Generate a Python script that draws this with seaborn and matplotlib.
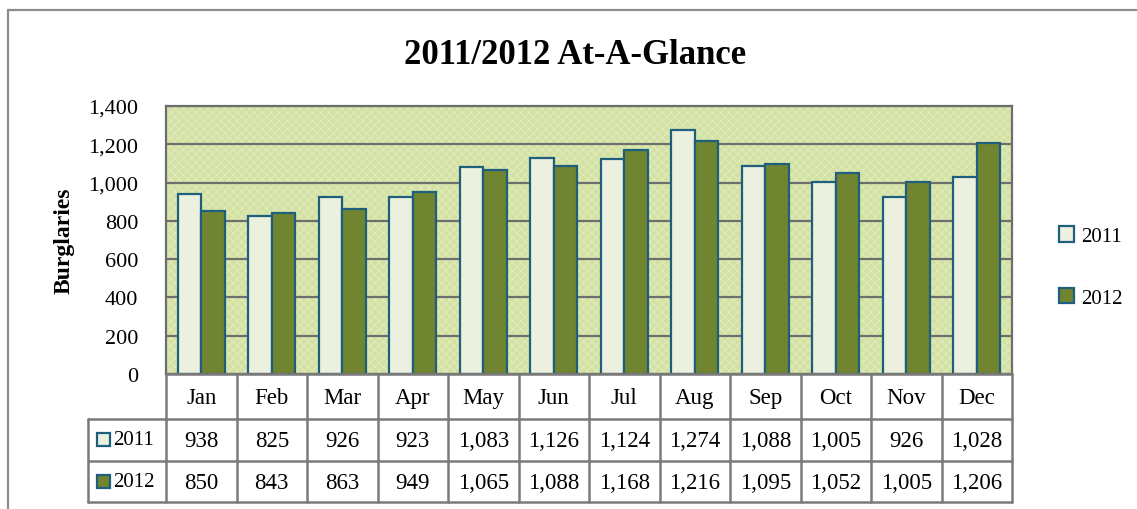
import numpy as np
import pandas as pd
import seaborn as sns
import matplotlib.pyplot as plt
from matplotlib.patches import Patch, Rectangle
from matplotlib.lines import Line2D

months = ['Jan', 'Feb', 'Mar', 'Apr', 'May', 'Jun', 'Jul', 'Aug', 'Sep', 'Oct', 'Nov', 'Dec']
y2011 = [938, 825, 926, 923, 1083, 1126, 1124, 1274, 1088, 1005, 926, 1028]
y2012 = [850, 843, 863, 949, 1065, 1088, 1168, 1216, 1095, 1052, 1005, 1206]
years = ['2011', '2012']
yticks = [0, 200, 400, 600, 800, 1000, 1200, 1400]

light = '#ebf1de'
dark = '#718530'
edge = '#1d5f7c'
grid_c = '#6e6e6e'
bg = '#d3e2a2'

df = pd.DataFrame({
    'month': months * 2,
    'count': y2011 + y2012,
    'year': [years[0]] * 12 + [years[1]] * 12,
})

sns.set_theme(style='white')
plt.rcParams['font.family'] = ['Liberation Serif', 'DejaVu Serif']
plt.rcParams['text.color'] = 'black'
plt.rcParams['axes.labelcolor'] = 'black'
plt.rcParams['ytick.color'] = 'black'
plt.rcParams['hatch.linewidth'] = 0.6

W, H = 1137, 510
fig = plt.figure(figsize=(W / 100, H / 100), dpi=100)


def px_axes(x0, y0, x1, y1):
    # axes placed by pixel box (top-left origin)
    return fig.add_axes([x0 / W, (H - y1) / H, (x1 - x0) / W, (y1 - y0) / H])


# outer chart frame
fig.add_artist(Line2D([8 / W, 8 / W], [0, 1 - 11 / H], color='#8c8c8c', lw=1.6))
fig.add_artist(Line2D([8 / W, 1], [1 - 11 / H, 1 - 11 / H], color='#8c8c8c', lw=1.6))

ax = px_axes(166, 107, 1012, 375)
ax.set_facecolor(bg)
# dotted texture of the plot area
ax.add_patch(Rectangle((0, 0), 1, 1, transform=ax.transAxes, facecolor='none',
                       edgecolor='#e2ecc2', hatch='xxxx', lw=0, zorder=-1))
sns.barplot(data=df, x='month', y='count', hue='year', palette=[light, dark],
            width=0.67, edgecolor=edge, linewidth=1.6, ax=ax, legend=False,
            saturation=1)
ax.set_ylim(0, 1400)
ax.set_xlim(-0.5, 11.5)
ax.set_yticks(yticks)
ax.set_yticklabels([f'{v:,}' for v in yticks], fontsize=16)
ax.tick_params(axis='y', length=0, pad=20)
ax.set_xticks([])
ax.set_xlabel('')
ax.set_ylabel('Burglaries', fontsize=17, fontweight='bold', labelpad=10)
ax.yaxis.grid(True, color=grid_c, lw=1.6)
ax.set_axisbelow(True)
for s in ax.spines.values():
    s.set_color(grid_c)
    s.set_linewidth(1.6)

fig.text(575 / W, 1 - 55 / H, '2011/2012 At-A-Glance', ha='center', va='center',
         fontsize=25, fontweight='bold')

# legend on the right
handles = [Patch(facecolor=light, edgecolor=edge, lw=1.6),
           Patch(facecolor=dark, edgecolor=edge, lw=1.6)]
fig.legend(handles, years, loc='center left', bbox_to_anchor=(1040 / W, 1 - 268 / H),
           frameon=False, fontsize=15, handlelength=0.75, handleheight=0.75,
           handletextpad=0.3, labelspacing=2.0)

# data table under the plot
tx = px_axes(88, 375, 1012, 503)
colw = (1012 - 166) / 12
xl = -0.5 - (166 - 88) / colw
tx.set_xlim(xl, 11.5)
tx.set_ylim(128, 0)
tx.axis('off')
tc = '#7a7a7a'
rows = [0, 45, 87, 128]
for i in range(13):
    tx.plot([-0.5 + i, -0.5 + i], [0, 128], color=tc, lw=1.8, clip_on=False)
tx.plot([xl, xl], [45, 128], color=tc, lw=1.8, clip_on=False)
tx.plot([-0.5, 11.5], [0, 0], color=tc, lw=1.8, clip_on=False)
for r in rows[1:]:
    tx.plot([xl, 11.5], [r, r], color=tc, lw=1.8, clip_on=False)

for i, m in enumerate(months):
    tx.text(i, 24, m, ha='center', va='center', fontsize=16.5)
    tx.text(i, 67, f'{y2011[i]:,}', ha='center', va='center', fontsize=16.5)
    tx.text(i, 109, f'{y2012[i]:,}', ha='center', va='center', fontsize=16.5)

for (r0, r1), col, lab in zip([(45, 87), (87, 128)], [light, dark], years):
    cy = (r0 + r1) / 2
    sq = 13 / colw
    tx.add_patch(Rectangle((xl + 9 / colw, cy - 7), sq, 13, facecolor=col,
                           edgecolor=edge, lw=1.6, clip_on=False))
    tx.text(xl + 25 / colw, cy, lab, ha='left', va='center', fontsize=15)

fig.savefig('out.png', dpi=100)
